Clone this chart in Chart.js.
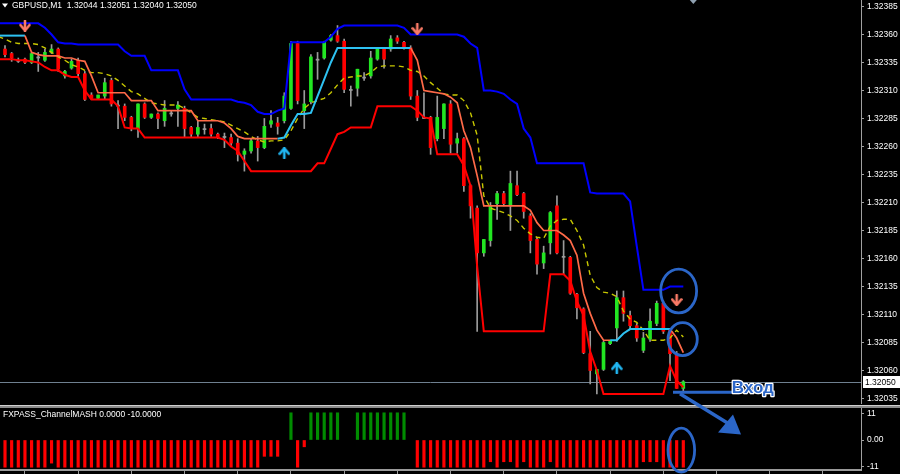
<!DOCTYPE html>
<html><head><meta charset="utf-8">
<script src="https://cdn.jsdelivr.net/npm/chart.js@4.4.0/dist/chart.umd.min.js"></script>
<style>html,body{margin:0;padding:0;background:#000;overflow:hidden}</style>
</head><body>
<canvas id="c" width="900" height="474"></canvas>
<script>
// ---------- DATA (GBPUSD, M1) ----------
const symbolTitle = "GBPUSD,M1";
const indicatorName = "FXPASS_ChannelMASH";
const indicatorValues = ["0.0000", "-10.0000"];

// candles, bar 0 .. 102
const opens = [
1.32347,1.32343,1.32337,1.32338,1.32335,1.32340,1.32337,1.32344,1.32347,1.32323,
1.32330,1.32337,1.32325,1.32306,1.32303,1.32305,1.32319,1.32297,1.32296,1.32286,
1.32276,1.32298,1.32286,1.32289,1.32283,1.32290,1.32294,1.32294,1.32277,1.32271,
1.32276,1.32276,1.32271,1.32269,1.32268,1.32263,1.32253,1.32256,1.32265,1.32259,
1.32280,1.32281,1.32283,1.32294,1.32352,1.32292,1.32300,1.32337,1.32339,1.32355,
1.32359,1.32354,1.32311,1.32312,1.32322,1.32323,1.32338,1.32347,1.32347,1.32357,
1.32353,1.32348,1.32305,1.32286,1.32286,1.32267,1.32276,1.32298,1.32263,1.32267,
1.32225,1.32205,1.32165,1.32176,1.32209,1.32218,1.32207,1.32225,1.32218,1.32198,
1.32177,1.32156,1.32174,1.32207,1.32162,1.32161,1.32128,1.32115,1.32075,1.32057,
1.32061,1.32084,1.32098,1.32125,1.32109,1.32100,1.32078,1.32088,1.32102,1.32120,
1.32097,1.32075,1.32044];
const highs = [
1.32350,1.32344,1.32339,1.32339,1.32344,1.32344,1.32347,1.32351,1.32348,1.32328,
1.32338,1.32339,1.32327,1.32308,1.32306,1.32321,1.32321,1.32301,1.32298,1.32287,
1.32298,1.32299,1.32289,1.32290,1.32301,1.32292,1.32300,1.32296,1.32278,1.32283,
1.32280,1.32280,1.32272,1.32272,1.32271,1.32267,1.32258,1.32267,1.32269,1.32285,
1.32292,1.32286,1.32308,1.32354,1.32354,1.32310,1.32342,1.32344,1.32354,1.32360,
1.32368,1.32356,1.32314,1.32329,1.32326,1.32345,1.32348,1.32348,1.32359,1.32359,
1.32354,1.32350,1.32310,1.32308,1.32287,1.32305,1.32298,1.32301,1.32272,1.32268,
1.32226,1.32207,1.32177,1.32210,1.32220,1.32220,1.32238,1.32238,1.32219,1.32200,
1.32179,1.32171,1.32202,1.32216,1.32176,1.32162,1.32129,1.32116,1.32095,1.32061,
1.32086,1.32087,1.32131,1.32131,1.32113,1.32102,1.32094,1.32115,1.32122,1.32122,
1.32097,1.32077,1.32051];
const lows = [
1.32340,1.32336,1.32335,1.32334,1.32334,1.32327,1.32336,1.32343,1.32327,1.32321,
1.32329,1.32323,1.32301,1.32302,1.32302,1.32302,1.32296,1.32276,1.32283,1.32274,
1.32268,1.32285,1.32285,1.32276,1.32278,1.32287,1.32278,1.32268,1.32268,1.32268,
1.32271,1.32269,1.32267,1.32259,1.32261,1.32247,1.32238,1.32254,1.32247,1.32258,
1.32277,1.32271,1.32281,1.32293,1.32298,1.32276,1.32298,1.32320,1.32338,1.32354,
1.32353,1.32308,1.32296,1.32305,1.32319,1.32321,1.32337,1.32330,1.32345,1.32352,
1.32347,1.32302,1.32283,1.32285,1.32253,1.32265,1.32267,1.32254,1.32254,1.32220,
1.32196,1.32095,1.32162,1.32171,1.32195,1.32207,1.32185,1.32216,1.32196,1.32165,
1.32146,1.32151,1.32164,1.32164,1.32146,1.32128,1.32106,1.32075,1.32048,1.32039,
1.32060,1.32083,1.32086,1.32104,1.32097,1.32086,1.32076,1.32086,1.32100,1.32093,
1.32051,1.32044,1.32040];
const closes = [
1.32342,1.32339,1.32336,1.32335,1.32343,1.32339,1.32344,1.32347,1.32329,1.32327,
1.32336,1.32325,1.32302,1.32303,1.32306,1.32317,1.32298,1.32296,1.32286,1.32276,
1.32298,1.32286,1.32289,1.32285,1.32294,1.32289,1.32297,1.32276,1.32271,1.32277,
1.32275,1.32271,1.32268,1.32268,1.32263,1.32253,1.32256,1.32265,1.32259,1.32278,
1.32283,1.32278,1.32305,1.32352,1.32301,1.32298,1.32340,1.32338,1.32353,1.32359,
1.32354,1.32311,1.32310,1.32329,1.32321,1.32339,1.32347,1.32338,1.32356,1.32354,
1.32348,1.32305,1.32286,1.32285,1.32259,1.32286,1.32298,1.32262,1.32267,1.32225,
1.32207,1.32165,1.32177,1.32207,1.32218,1.32209,1.32227,1.32217,1.32202,1.32176,
1.32155,1.32165,1.32201,1.32165,1.32161,1.32129,1.32116,1.32076,1.32060,1.32061,
1.32085,1.32087,1.32125,1.32111,1.32100,1.32089,1.32089,1.32104,1.32120,1.32095,
1.32075,1.32044,1.32050];

// indicator lines, first value = bar -1 (left edge), then bars 0..102
const lineStart = -1;
const upperChannel = [1.32370,
1.32370,1.32370,1.32370,1.32370,1.32370,1.32370,1.32366,1.32360,1.32353,1.32352,
1.32352,1.32351,1.32351,1.32351,1.32351,1.32351,1.32351,1.32351,1.32345,1.32341,
1.32341,1.32341,1.32328,1.32328,1.32328,1.32328,1.32328,1.32311,1.32302,1.32302,
1.32302,1.32302,1.32302,1.32302,1.32302,1.32300,1.32299,1.32297,1.32291,1.32289,
1.32289,1.32292,1.32294,1.32353,1.32353,1.32353,1.32353,1.32353,1.32353,1.32358,
1.32365,1.32368,1.32368,1.32368,1.32368,1.32368,1.32368,1.32368,1.32368,1.32368,
1.32366,1.32360,1.32360,1.32360,1.32360,1.32360,1.32360,1.32360,1.32360,1.32358,
1.32352,1.32348,1.32310,1.32310,1.32309,1.32307,1.32302,1.32298,1.32276,1.32268,
1.32245,1.32245,1.32245,1.32245,1.32245,1.32245,1.32245,1.32245,1.32219,1.32218,
1.32218,1.32218,1.32218,1.32218,1.32211,1.32171,1.32132,1.32132,1.32132,1.32132,
1.32135,1.32135,1.32135];
const lowerChannel = [1.32338,
1.32338,1.32338,1.32337,1.32337,1.32336,1.32335,1.32331,1.32328,1.32328,1.32324,
1.32322,1.32322,1.32310,1.32302,1.32302,1.32302,1.32302,1.32296,1.32277,1.32276,
1.32276,1.32268,1.32268,1.32268,1.32268,1.32268,1.32268,1.32268,1.32268,1.32268,
1.32268,1.32268,1.32268,1.32266,1.32260,1.32256,1.32247,1.32238,1.32238,1.32238,
1.32238,1.32238,1.32238,1.32238,1.32238,1.32238,1.32238,1.32245,1.32245,1.32258,
1.32271,1.32273,1.32277,1.32277,1.32277,1.32277,1.32296,1.32296,1.32296,1.32296,
1.32296,1.32296,1.32292,1.32286,1.32285,1.32253,1.32253,1.32253,1.32253,1.32243,
1.32225,1.32153,1.32095,1.32095,1.32095,1.32095,1.32095,1.32095,1.32095,1.32095,
1.32095,1.32095,1.32146,1.32146,1.32146,1.32140,1.32122,1.32109,1.32077,1.32060,
1.32039,1.32039,1.32039,1.32039,1.32039,1.32039,1.32039,1.32039,1.32039,1.32039,
1.32064,1.32051,1.32045];
const mashLine = [1.32359,
1.32359,1.32359,1.32359,1.32359,1.32344,1.32342,1.32341,1.32341,1.32341,1.32339,
1.32339,1.32337,1.32336,1.32323,1.32308,1.32308,1.32308,1.32308,1.32308,1.32301,
1.32301,1.32301,1.32301,1.32292,1.32292,1.32292,1.32292,1.32292,1.32292,1.32283,
1.32283,1.32283,1.32283,1.32281,1.32276,1.32269,1.32267,1.32267,1.32267,1.32267,
1.32267,1.32267,1.32268,1.32279,1.32289,1.32289,1.32290,1.32305,1.32320,1.32335,
1.32348,1.32348,1.32348,1.32348,1.32348,1.32348,1.32348,1.32348,1.32348,1.32348,
1.32348,1.32348,1.32337,1.32310,1.32309,1.32308,1.32307,1.32304,1.32299,1.32274,
1.32259,1.32234,1.32207,1.32207,1.32207,1.32207,1.32207,1.32207,1.32207,1.32203,
1.32192,1.32185,1.32185,1.32185,1.32181,1.32176,1.32163,1.32129,1.32111,1.32096,
1.32087,1.32087,1.32087,1.32093,1.32097,1.32097,1.32097,1.32097,1.32097,1.32097,
1.32097,1.32089,1.32076];
// 1 = rising (cyan) segment starting at that bar, 0 = falling (orange)
const mashTrend = [
1,1,1,0,0,0,0,0,0,0, 0,0,0,0,0,0,0,0,0,0, 0,0,0,0,0,0,0,0,0,0, 0,0,0,0,0,0,0,0,0,0,
0,1,1,1,1,1,1,1,1,1, 1,1,1,1,1,1,1,1,1,1, 1,0,0,0,0,0,0,0,0,0, 0,0,0,0,0,0,0,0,0,0,
0,0,0,0,0,0,0,0,0,0, 0,1,1,1,1,1,1,1,1,1, 0,0,0];
const maLine = [1.32358,
1.32356,1.32353,1.32352,1.32352,1.32352,1.32351,1.32348,1.32344,1.32340,1.32337,
1.32333,1.32331,1.32328,1.32326,1.32326,1.32325,1.32323,1.32319,1.32314,1.32309,
1.32307,1.32303,1.32299,1.32298,1.32297,1.32297,1.32297,1.32294,1.32290,1.32286,
1.32285,1.32284,1.32283,1.32282,1.32279,1.32276,1.32273,1.32269,1.32266,1.32264,
1.32265,1.32265,1.32266,1.32274,1.32285,1.32294,1.32299,1.32301,1.32303,1.32308,
1.32315,1.32321,1.32322,1.32323,1.32323,1.32326,1.32331,1.32332,1.32332,1.32332,
1.32331,1.32328,1.32327,1.32323,1.32317,1.32312,1.32307,1.32306,1.32306,1.32301,
1.32290,1.32270,1.32216,1.32205,1.32203,1.32201,1.32198,1.32194,1.32187,1.32182,
1.32179,1.32178,1.32189,1.32194,1.32195,1.32195,1.32185,1.32172,1.32145,1.32134,
1.32130,1.32129,1.32126,1.32113,1.32106,1.32103,1.32096,1.32087,1.32087,1.32087,
1.32089,1.32096,1.32090];

// signal arrows
const sellBars = [3, 62, 101];
const sellPrices = [1.32368, 1.32365, 1.32123];
const buyBars = [42, 92];
const buyPrices = [1.32254, 1.32062];

// histogram (bars 0..102)
const histDown = [
-10,-10,-10,-10,-10,-10,-10,-8.5,-10,-10, -10,-10,-10,-10,-10,-10,-10,-10,-10,-10,
-10,-10,-10,-10,-10,-10,-10,-10,-10,-10, -10,-10,-10,-10,-10,-10,-10,-10,-10,-6,
-6,-6,null,null,-10,-2.5,null,null,null,null, null,null,null,null,null,null,null,null,null,null,
null,null,-10,-10,-10,-10,-10,-10,-10,-10, -10,-10,-10,-8,-10,-8,-8,-10,-8,-10,
-10,-10,-8,-10,-10,-10,-10,-10,-10,-10, -10,-10,-10,-10,-10,-10,-8,-8,-8,-10,
-10,-10,-10];
const histUp = [
null,null,null,null,null,null,null,null,null,null, null,null,null,null,null,null,null,null,null,null,
null,null,null,null,null,null,null,null,null,null, null,null,null,null,null,null,null,null,null,null,
null,null,null,10,null,null,10,10,10,10, 10,null,null,10,10,10,10,10,10,10,
10,null,null,null,null,null,null,null,null,null, null,null,null,null,null,null,null,null,null,null,
null,null,null,null,null,null,null,null,null,null, null,null,null,null,null,null,null,null,null,null,
null,null,null];

// axes
const priceTicks = [1.32035,1.32060,1.32085,1.32110,1.32135,1.32160,1.32185,1.32210,
  1.32235,1.32260,1.32285,1.32310,1.32335,1.32360,1.32385];
const priceMin = 1.320292, priceMax = 1.323908;
const indMin = -11.03, indMax = 12.87;
const indTickValues = [-11, 0, 11];
const indTickText = ["-11", "0.00", "11"];
const timeTickBars = [7,15,23,31,39,47,55,63,71,79,87,95,103,111,119,127];
const barMin = -0.752, barMax = 128.72;

// hand-drawn annotations (in bar / value units)
const ringBars = [101.3, 101.9, 101.7];
const ringValues = [1.32131, 1.32088, -3.7];
const ringAxes = ['y', 'y', 'yInd'];
const ringRadiusBars = [2.7, 2.2, 2.0];
const ringRadiusValues = [0.000196, 0.000147, 8.1];
const entryBars = [100.45, 109.4];
const entryPrice = 1.320406;
const entryText = "Вход";
const entryTextBar = 109.3;
const arrowBars = [101.5, 109.5];
const arrowPrices = [1.320392, 1.320100];
const arrowHeadBars = [110.68, 107.22, 109.47];
const arrowHeadPrices = [1.320028, 1.320046, 1.320207];
const shiftMarkerBar = 103.5;

// ---------- COLORS ----------
const cRed = '#ff0000', cGreen = '#22e622', cWick = '#9b9b9b';
const cBlue = '#0000ff', cOrange = '#ff6a48', cCyan = '#2ec2f2', cYellow = '#c8c800';
const cNote = '#2b66c8';
const uiFont = '8.5px "Liberation Sans", Arial, sans-serif';

// ---------- BUILD ----------
const bars = opens.map((_, i) => i);
const lineData = arr => arr.map((v, j) => ({x: j + lineStart, y: v}));

function arrowImage(color, down) {
  const c = document.createElement('canvas'); c.width = 12; c.height = 12;
  const g = c.getContext('2d');
  g.strokeStyle = color; g.fillStyle = color; g.lineWidth = 2.6; g.lineCap = 'round'; g.lineJoin = 'round';
  g.beginPath();
  if (down) { g.moveTo(6, 1); g.lineTo(6, 9); g.stroke();
    g.beginPath(); g.moveTo(1.5, 5.5); g.lineTo(6, 11); g.lineTo(10.5, 5.5); g.stroke(); }
  else { g.moveTo(6, 11); g.lineTo(6, 3); g.stroke();
    g.beginPath(); g.moveTo(1.5, 6.5); g.lineTo(6, 1); g.lineTo(10.5, 6.5); g.stroke(); }
  return c;
}

const overlay = {
  id: 'overlay',
  beforeDraw(chart) {
    const ctx = chart.ctx; ctx.save(); ctx.fillStyle = '#000';
    ctx.fillRect(0, 0, chart.width, chart.height); ctx.restore();
  },
  beforeDatasetsDraw(chart) {
    const {ctx, chartArea: a, scales} = chart;
    const by = Math.round(scales.y.getPixelForValue(closes[closes.length - 1])) + 0.5;
    ctx.save(); ctx.strokeStyle = '#6f8090'; ctx.lineWidth = 1;
    ctx.beginPath(); ctx.moveTo(a.left, by); ctx.lineTo(a.right, by); ctx.stroke();
    ctx.restore();
  },
  afterDraw(chart) {
    const {ctx, chartArea: a, scales} = chart;
    const X = v => scales.x.getPixelForValue(v);
    const Y = v => scales.y.getPixelForValue(v);
    const YI = v => scales.yInd.getPixelForValue(v);
    ctx.save();
    // pane separator
    const sep = scales.yInd.top;
    ctx.fillStyle = '#000'; ctx.fillRect(0, sep - 1, chart.width, 4);
    ctx.fillStyle = '#8a8a8a'; ctx.fillRect(0, sep, chart.width, 3);
    ctx.fillStyle = '#cfcfcf'; ctx.fillRect(0, sep, chart.width, 1);
    // title
    ctx.font = uiFont; ctx.textBaseline = 'middle'; ctx.fillStyle = '#ffffff';
    ctx.beginPath(); ctx.moveTo(2, 3.5); ctx.lineTo(8, 3.5); ctx.lineTo(5, 7.5); ctx.closePath(); ctx.fill();
    const last = closes.length - 1;
    ctx.fillText(symbolTitle + '  ' + [opens[last], highs[last], lows[last], closes[last]].map(v => v.toFixed(5)).join(' '), 12, 6);
    // indicator label
    ctx.fillText(indicatorName + ' ' + indicatorValues.join(' '), 3, sep + 10);
    // current price box
    const by = Math.round(Y(closes[last]));
    ctx.fillStyle = '#ffffff'; ctx.fillRect(a.right + 2, by - 6, 38, 12);
    ctx.fillStyle = '#000000'; ctx.textAlign = 'left';
    ctx.fillText(closes[last].toFixed(5), a.right + 4, by + 0.5);
    // chart shift marker
    const sx = X(shiftMarkerBar);
    ctx.fillStyle = '#8fa0b0';
    ctx.beginPath(); ctx.moveTo(sx - 3.5, 0); ctx.lineTo(sx + 3.5, 0); ctx.lineTo(sx, 4); ctx.closePath(); ctx.fill();
    // annotations: rings
    ctx.strokeStyle = cNote; ctx.lineWidth = 2.8;
    for (let i = 0; i < ringBars.length; i++) {
      const s = ringAxes[i] === 'y' ? Y : YI;
      const cx = X(ringBars[i]), cy = s(ringValues[i]);
      const rx = X(ringBars[i] + ringRadiusBars[i]) - cx;
      const ry = Math.abs(s(ringValues[i] + ringRadiusValues[i]) - cy);
      ctx.beginPath(); ctx.ellipse(cx, cy, rx, ry, 0, 0, Math.PI * 2); ctx.stroke();
    }
    // entry line
    ctx.lineWidth = 3; ctx.lineCap = 'butt';
    ctx.beginPath(); ctx.moveTo(X(entryBars[0]), Y(entryPrice)); ctx.lineTo(X(entryBars[1]), Y(entryPrice)); ctx.stroke();
    // arrow
    ctx.lineWidth = 3.4;
    ctx.beginPath(); ctx.moveTo(X(arrowBars[0]), Y(arrowPrices[0])); ctx.lineTo(X(arrowBars[1]), Y(arrowPrices[1])); ctx.stroke();
    ctx.fillStyle = cNote;
    ctx.beginPath();
    ctx.moveTo(X(arrowHeadBars[0]), Y(arrowHeadPrices[0]));
    ctx.lineTo(X(arrowHeadBars[1]), Y(arrowHeadPrices[1]));
    ctx.lineTo(X(arrowHeadBars[2]), Y(arrowHeadPrices[2]));
    ctx.closePath(); ctx.fill();
    // entry text
    ctx.font = 'bold 17px "Liberation Sans", Arial, sans-serif';
    ctx.textBaseline = 'alphabetic'; ctx.textAlign = 'left';
    ctx.lineJoin = 'round'; ctx.lineWidth = 2.5; ctx.strokeStyle = '#ffffff';
    ctx.strokeText(entryText, X(entryTextBar), Y(entryPrice) + 0.5);
    ctx.fillStyle = cNote; ctx.fillText(entryText, X(entryTextBar), Y(entryPrice) + 0.5);
    ctx.restore();
  }
};

const chart = new Chart(document.getElementById('c'), {
  type: 'bar',
  data: {
    datasets: [
      { type: 'bar', label: 'wick', data: bars.map(i => ({x: i, y: [lows[i], highs[i]]})),
        backgroundColor: cWick, barThickness: 1, grouped: false, order: 12, yAxisID: 'y' },
      { type: 'bar', label: 'body', data: bars.map(i => ({x: i, y: [opens[i], closes[i]]})),
        backgroundColor: ctx => {
          const i = ctx.dataIndex; const d = closes[i] - opens[i];
          if (Math.abs(d) < 0.000015) return cWick;
          return d > 0 ? cGreen : cRed;
        },
        barThickness: 3, grouped: false, order: 11, yAxisID: 'y' },
      { type: 'bar', label: 'histDown', data: bars.map(i => ({x: i, y: histDown[i]})),
        backgroundColor: cRed, barThickness: 2.5, grouped: false, order: 10, yAxisID: 'yInd' },
      { type: 'bar', label: 'histUp', data: bars.map(i => ({x: i, y: histUp[i]})),
        backgroundColor: '#008c00', barThickness: 2.5, grouped: false, order: 10, yAxisID: 'yInd' },
      { type: 'line', label: 'upper', data: lineData(upperChannel), borderColor: cBlue, borderWidth: 2,
        pointRadius: 0, tension: 0, order: 5, yAxisID: 'y' },
      { type: 'line', label: 'lower', data: lineData(lowerChannel), borderColor: cRed, borderWidth: 2,
        pointRadius: 0, tension: 0, order: 5, yAxisID: 'y' },
      { type: 'line', label: 'ma', data: lineData(maLine), borderColor: cYellow, borderWidth: 1.4,
        borderDash: [5, 4], pointRadius: 0, tension: 0, order: 4, yAxisID: 'y' },
      { type: 'line', label: 'mash', data: lineData(mashLine), borderColor: cOrange, borderWidth: 1.7,
        pointRadius: 0, tension: 0, order: 3, yAxisID: 'y',
        segment: { borderColor: ctx => {
          const b = Math.max(0, ctx.p0DataIndex + lineStart);
          return mashTrend[b] ? cCyan : cOrange;
        }, borderWidth: ctx => (mashTrend[Math.max(0, ctx.p0DataIndex + lineStart)] ? 2 : 1.7) } },
      { type: 'scatter', label: 'sell', data: sellBars.map((b, i) => ({x: b, y: sellPrices[i]})),
        pointStyle: arrowImage('#fa7a66', true), pointRadius: 6, order: 1, yAxisID: 'y' },
      { type: 'scatter', label: 'buy', data: buyBars.map((b, i) => ({x: b, y: buyPrices[i]})),
        pointStyle: arrowImage('#22b8f4', false), pointRadius: 6, order: 1, yAxisID: 'y' }
    ]
  },
  options: {
    responsive: false, maintainAspectRatio: false, animation: false, devicePixelRatio: 1,
    events: [],
    layout: { padding: 0, autoPadding: false },
    plugins: { legend: { display: false }, tooltip: { enabled: false } },
    scales: {
      x: {
        type: 'linear', min: barMin, max: barMax, offset: false,
        grid: { display: true, drawOnChartArea: false, drawTicks: true, tickLength: 4, color: '#9a9a9a' },
        border: { display: true, color: '#9a9a9a', width: 2 },
        ticks: { display: false },
        afterBuildTicks: s => { s.ticks = timeTickBars.map(v => ({value: v})); },
        afterFit: s => { s.height = 4; s.paddingLeft = 0; s.paddingRight = 0; }
      },
      y: {
        type: 'linear', position: 'right', stack: 'panes', stackWeight: 405,
        min: priceMin, max: priceMax,
        grid: { drawOnChartArea: false, drawTicks: true, tickLength: 3, color: '#a0a0a0' },
        border: { display: true, color: '#a0a0a0' },
        ticks: { color: '#ffffff', font: { family: 'Liberation Sans', size: 8.5 }, padding: 3, autoSkip: false,
          callback: v => Number(v).toFixed(5) },
        afterBuildTicks: s => { s.ticks = priceTicks.map(v => ({value: v})); },
        afterFit: s => { s.width = 39; s.paddingTop = 0; s.paddingBottom = 0; }
      },
      yInd: {
        type: 'linear', position: 'right', stack: 'panes', stackWeight: 65,
        min: indMin, max: indMax,
        grid: { drawOnChartArea: false, drawTicks: true, tickLength: 3, color: '#a0a0a0' },
        border: { display: true, color: '#a0a0a0' },
        ticks: { color: '#ffffff', font: { family: 'Liberation Sans', size: 8.5 }, padding: 3, autoSkip: false,
          callback: (v, i) => indTickText[i] },
        afterBuildTicks: s => { s.ticks = indTickValues.map(v => ({value: v * 0.88})); },
        afterFit: s => { s.width = 39; s.paddingTop = 0; s.paddingBottom = 0; }
      }
    }
  },
  plugins: [overlay]
});
</script>
</body></html>
